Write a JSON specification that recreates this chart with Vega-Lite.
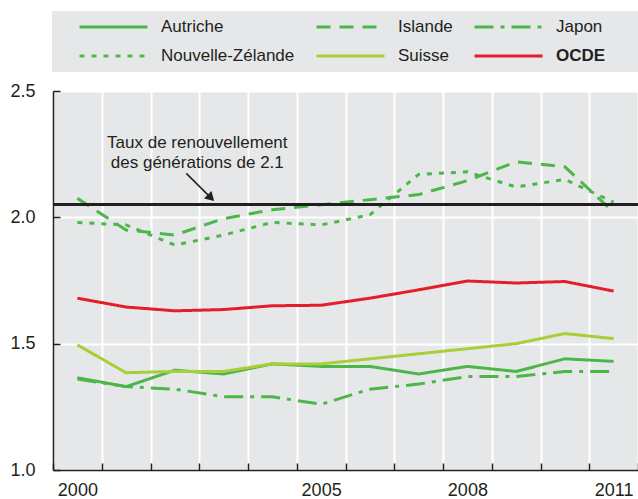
{
  "$schema": "https://vega.github.io/schema/vega-lite/v6.json",
  "width": 585,
  "height": 379,
  "autosize": {"type": "none"},
  "padding": {"left": 53, "top": 91, "right": 0, "bottom": 29},
  "background": "white",
  "config": {
    "font": "Liberation Sans",
    "view": {"fill": "#e6e7e8", "stroke": null},
    "axis": {
      "labelFont": "Liberation Sans",
      "labelFontSize": 18,
      "labelColor": "#231f20",
      "gridColor": "white",
      "gridWidth": 2,
      "gridOpacity": 1,
      "domainColor": "#231f20",
      "domainWidth": 1.5,
      "tickColor": "#231f20",
      "tickWidth": 1.5,
      "tickSize": -7
    }
  },
  "datasets": {
    "fert": [
      {"pays": "Autriche", "annee": 2000, "valeur": 1.365},
      {"pays": "Autriche", "annee": 2001, "valeur": 1.33},
      {"pays": "Autriche", "annee": 2002, "valeur": 1.395},
      {"pays": "Autriche", "annee": 2003, "valeur": 1.38},
      {"pays": "Autriche", "annee": 2004, "valeur": 1.42},
      {"pays": "Autriche", "annee": 2005, "valeur": 1.41},
      {"pays": "Autriche", "annee": 2006, "valeur": 1.41},
      {"pays": "Autriche", "annee": 2007, "valeur": 1.38},
      {"pays": "Autriche", "annee": 2008, "valeur": 1.41},
      {"pays": "Autriche", "annee": 2009, "valeur": 1.39},
      {"pays": "Autriche", "annee": 2010, "valeur": 1.44},
      {"pays": "Autriche", "annee": 2011, "valeur": 1.43},
      {"pays": "Islande", "annee": 2000, "valeur": 2.075},
      {"pays": "Islande", "annee": 2001, "valeur": 1.95},
      {"pays": "Islande", "annee": 2002, "valeur": 1.93},
      {"pays": "Islande", "annee": 2003, "valeur": 1.995},
      {"pays": "Islande", "annee": 2004, "valeur": 2.03},
      {"pays": "Islande", "annee": 2005, "valeur": 2.05},
      {"pays": "Islande", "annee": 2006, "valeur": 2.07},
      {"pays": "Islande", "annee": 2007, "valeur": 2.09},
      {"pays": "Islande", "annee": 2008, "valeur": 2.145},
      {"pays": "Islande", "annee": 2009, "valeur": 2.22},
      {"pays": "Islande", "annee": 2010, "valeur": 2.2},
      {"pays": "Islande", "annee": 2011, "valeur": 2.02},
      {"pays": "Japon", "annee": 2000, "valeur": 1.36},
      {"pays": "Japon", "annee": 2001, "valeur": 1.33},
      {"pays": "Japon", "annee": 2002, "valeur": 1.32},
      {"pays": "Japon", "annee": 2003, "valeur": 1.29},
      {"pays": "Japon", "annee": 2004, "valeur": 1.29},
      {"pays": "Japon", "annee": 2005, "valeur": 1.26},
      {"pays": "Japon", "annee": 2006, "valeur": 1.32},
      {"pays": "Japon", "annee": 2007, "valeur": 1.34},
      {"pays": "Japon", "annee": 2008, "valeur": 1.37},
      {"pays": "Japon", "annee": 2009, "valeur": 1.37},
      {"pays": "Japon", "annee": 2010, "valeur": 1.39},
      {"pays": "Japon", "annee": 2011, "valeur": 1.39},
      {"pays": "Nouvelle-Zélande", "annee": 2000, "valeur": 1.98},
      {"pays": "Nouvelle-Zélande", "annee": 2001, "valeur": 1.97},
      {"pays": "Nouvelle-Zélande", "annee": 2002, "valeur": 1.89},
      {"pays": "Nouvelle-Zélande", "annee": 2003, "valeur": 1.93},
      {"pays": "Nouvelle-Zélande", "annee": 2004, "valeur": 1.98},
      {"pays": "Nouvelle-Zélande", "annee": 2005, "valeur": 1.97},
      {"pays": "Nouvelle-Zélande", "annee": 2006, "valeur": 2.01},
      {"pays": "Nouvelle-Zélande", "annee": 2007, "valeur": 2.17},
      {"pays": "Nouvelle-Zélande", "annee": 2008, "valeur": 2.18},
      {"pays": "Nouvelle-Zélande", "annee": 2009, "valeur": 2.12},
      {"pays": "Nouvelle-Zélande", "annee": 2010, "valeur": 2.15},
      {"pays": "Nouvelle-Zélande", "annee": 2011, "valeur": 2.06},
      {"pays": "Suisse", "annee": 2000, "valeur": 1.495},
      {"pays": "Suisse", "annee": 2001, "valeur": 1.385},
      {"pays": "Suisse", "annee": 2002, "valeur": 1.39},
      {"pays": "Suisse", "annee": 2003, "valeur": 1.39},
      {"pays": "Suisse", "annee": 2004, "valeur": 1.42},
      {"pays": "Suisse", "annee": 2005, "valeur": 1.42},
      {"pays": "Suisse", "annee": 2006, "valeur": 1.44},
      {"pays": "Suisse", "annee": 2007, "valeur": 1.46},
      {"pays": "Suisse", "annee": 2008, "valeur": 1.48},
      {"pays": "Suisse", "annee": 2009, "valeur": 1.5},
      {"pays": "Suisse", "annee": 2010, "valeur": 1.54},
      {"pays": "Suisse", "annee": 2011, "valeur": 1.52},
      {"pays": "OCDE", "annee": 2000, "valeur": 1.68},
      {"pays": "OCDE", "annee": 2001, "valeur": 1.645},
      {"pays": "OCDE", "annee": 2002, "valeur": 1.63},
      {"pays": "OCDE", "annee": 2003, "valeur": 1.635},
      {"pays": "OCDE", "annee": 2004, "valeur": 1.65},
      {"pays": "OCDE", "annee": 2005, "valeur": 1.652},
      {"pays": "OCDE", "annee": 2006, "valeur": 1.68},
      {"pays": "OCDE", "annee": 2007, "valeur": 1.713},
      {"pays": "OCDE", "annee": 2008, "valeur": 1.748},
      {"pays": "OCDE", "annee": 2009, "valeur": 1.74},
      {"pays": "OCDE", "annee": 2010, "valeur": 1.746},
      {"pays": "OCDE", "annee": 2011, "valeur": 1.708}
    ],
    "note": [
      {"annee": 2002.46, "valeur": 2.296, "texte": ["Taux de renouvellement", "des générations de 2.1"]}
    ],
    "fleche": [
      {"x0": 2002.234, "y0": 2.174, "x1": 2002.74, "y1": 2.077}
    ]
  },
  "layer": [
    {
      "data": {"name": "fert"},
      "layer": [
        {
          "mark": {"type": "line", "strokeCap": "butt"},
          "encoding": {
            "x": {
              "field": "annee",
              "type": "ordinal",
              "bandPosition": 0.5,
              "scale": {"type": "band", "paddingInner": 0, "paddingOuter": 0},
              "axis": {
                "title": null,
                "tickBand": "extent",
                "labelAngle": 0,
                "grid": true,
                "labelPadding": 18,
                "labelExpr": "indexof(['2000','2005','2008','2011'], datum.label) >= 0 ? datum.label : ''"
              }
            },
            "y": {
              "field": "valeur",
              "type": "quantitative",
              "title": null,
              "scale": {"domain": [1, 2.5], "nice": false, "zero": false},
              "axis": {"values": [1, 1.5, 2, 2.5], "format": ".1f", "labelPadding": 25, "grid": true}
            },
            "color": {
              "field": "pays",
              "type": "nominal",
              "scale": {
                "domain": ["Autriche", "Islande", "Japon", "Nouvelle-Zélande", "Suisse", "OCDE"],
                "range": ["#4cb748", "#4cb748", "#4cb748", "#4cb748", "#a8ce38", "#e31e2a"]
              },
              "legend": {
                "title": " ",
                "titleOrient": "right",
                "titlePadding": 30,
                "titleFontSize": 10,
                "orient": "none",
                "direction": "horizontal",
                "legendX": -1,
                "legendY": -80,
                "columns": 3,
                "fillColor": "#e6e7e8",
                "padding": 6,
                "symbolType": "stroke",
                "symbolSize": 4624,
                "symbolOffset": 20,
                "clipHeight": 20,
                "labelOffset": 12,
                "labelFontSize": 17,
                "labelFont": "Liberation Sans",
                "labelColor": "#231f20",
                "labelLimit": 300,
                "columnPadding": 0,
                "rowPadding": 9,
                "encode": {"labels": {"update": {"fontWeight": {"signal": "datum.value === 'OCDE' ? 'bold' : 'normal'"}}}}
              }
            },
            "strokeDash": {
              "field": "pays",
              "type": "nominal",
              "scale": {
                "domain": ["Autriche", "Islande", "Japon", "Nouvelle-Zélande", "Suisse", "OCDE"],
                "range": [[1, 0], [14, 9], [19, 7, 4, 7], [5, 7], [1, 0], [1, 0]]
              }
            },
            "strokeWidth": {
              "field": "pays",
              "type": "nominal",
              "scale": {
                "domain": ["Autriche", "Islande", "Japon", "Nouvelle-Zélande", "Suisse", "OCDE"],
                "range": [3, 3, 3, 3, 3, 5.5]
              }
            }
          }
        },
        {
          "mark": {"type": "rule", "color": "#231f20", "strokeWidth": 2.5},
          "encoding": {"y": {"datum": 2.05, "type": "quantitative"}}
        }
      ]
    },
    {
      "layer": [
        {
          "data": {"name": "note"},
          "mark": {"type": "text", "fontSize": 17, "font": "Liberation Sans", "color": "#231f20", "align": "center", "baseline": "middle", "lineHeight": 20},
          "encoding": {
            "x": {"field": "annee", "type": "quantitative", "scale": {"domain": [1999.5, 2011.5], "nice": false, "zero": false}, "axis": null},
            "y": {"field": "valeur", "type": "quantitative", "title": null},
            "text": {"field": "texte"}
          }
        },
        {
          "data": {"name": "fleche"},
          "mark": {"type": "rule", "color": "#231f20", "strokeWidth": 1.5},
          "encoding": {
            "x": {"field": "x0", "type": "quantitative", "scale": {"domain": [1999.5, 2011.5], "nice": false, "zero": false}, "axis": null},
            "x2": {"field": "x1"},
            "y": {"field": "y0", "type": "quantitative", "title": null},
            "y2": {"field": "y1"}
          }
        },
        {
          "data": {"name": "fleche"},
          "mark": {"type": "point", "shape": "triangle-up", "filled": true, "color": "#231f20", "opacity": 1, "size": 110, "angle": 135},
          "encoding": {
            "x": {"field": "x1", "type": "quantitative", "scale": {"domain": [1999.5, 2011.5], "nice": false, "zero": false}, "axis": null},
            "y": {"field": "y1", "type": "quantitative", "title": null}
          }
        }
      ]
    }
  ],
  "resolve": {"scale": {"x": "independent"}}
}
